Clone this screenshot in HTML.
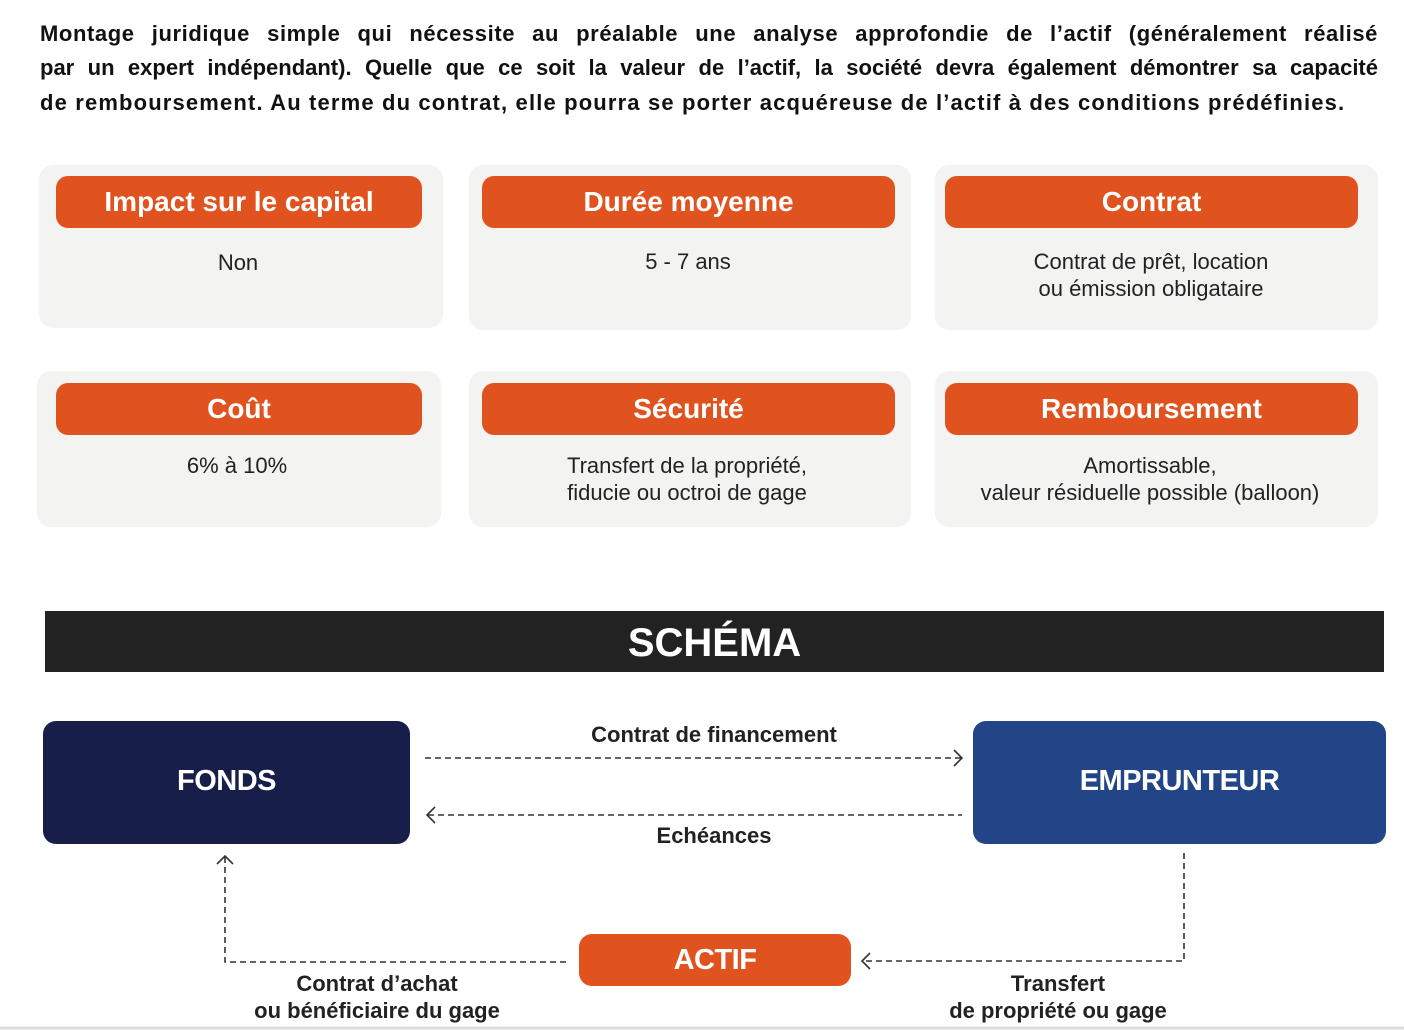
<!DOCTYPE html>
<html><head><meta charset="utf-8"><style>
*{margin:0;padding:0;box-sizing:border-box}
body{width:1404px;height:1030px;background:#fff;position:relative;overflow:hidden;font-family:"Liberation Sans",sans-serif;color:#111}
.il{position:absolute;left:40px;width:1338px;font-size:22px;font-weight:bold;line-height:30px;white-space:nowrap;letter-spacing:1.15px}
.j{text-align:justify;text-align-last:justify;white-space:normal}
.card{position:absolute;background:#f3f3f2;border-radius:14px}
.pill{position:absolute;background:#e0531f;border-radius:12px;color:#fff;font-size:28px;font-weight:bold;text-align:center;line-height:52px;height:52px}
.val{position:absolute;font-size:22px;text-align:center;line-height:27px;color:#222}
.bar{position:absolute;left:45px;top:611px;width:1339px;height:61px;background:#222;color:#fff;font-size:40px;font-weight:bold;text-align:center;line-height:64px}
.box{position:absolute;border-radius:13px;color:#fff;font-weight:bold;font-size:29px;text-align:center;letter-spacing:-0.5px}
.lbl{position:absolute;font-size:22px;font-weight:bold;text-align:center;line-height:27px;color:#222}
</style></head><body>
<div class="il j" style="top:19px;letter-spacing:0.6px">Montage juridique simple qui nécessite au préalable une analyse approfondie de l’actif (généralement réalisé</div>
<div class="il j" style="top:53px;letter-spacing:0">par un expert indépendant). Quelle que ce soit la valeur de l’actif, la société devra également démontrer sa capacité</div>
<div class="il" style="top:88px">de remboursement. Au terme du contrat, elle pourra se porter acquéreuse de l’actif à des conditions prédéfinies.</div>

<div class="card" style="left:39px;top:165px;width:404px;height:163px"></div>
<div class="card" style="left:469px;top:165px;width:442px;height:165px"></div>
<div class="card" style="left:935px;top:165px;width:443px;height:165px"></div>
<div class="card" style="left:37px;top:371px;width:404px;height:156px"></div>
<div class="card" style="left:469px;top:371px;width:442px;height:156px"></div>
<div class="card" style="left:935px;top:371px;width:443px;height:156px"></div>

<div class="pill" style="left:56px;top:176px;width:366px">Impact sur le capital</div>
<div class="pill" style="left:482px;top:176px;width:413px">Durée moyenne</div>
<div class="pill" style="left:945px;top:176px;width:413px">Contrat</div>
<div class="pill" style="left:56px;top:383px;width:366px">Coût</div>
<div class="pill" style="left:482px;top:383px;width:413px">Sécurité</div>
<div class="pill" style="left:945px;top:383px;width:413px">Remboursement</div>

<div class="val" style="left:39px;top:249px;width:398px">Non</div>
<div class="val" style="left:469px;top:248px;width:438px">5 - 7 ans</div>
<div class="val" style="left:935px;top:248px;width:432px">Contrat de prêt, location<br>ou émission obligataire</div>
<div class="val" style="left:37px;top:452px;width:400px">6% à 10%</div>
<div class="val" style="left:469px;top:452px;width:436px">Transfert de la propriété,<br>fiducie ou octroi de gage</div>
<div class="val" style="left:935px;top:452px;width:430px">Amortissable,<br>valeur résiduelle possible (balloon)</div>

<div class="bar">SCHÉMA</div>

<div class="box" style="left:43px;top:721px;width:367px;height:123px;background:#171e4a;line-height:121px">FONDS</div>
<div class="box" style="left:973px;top:721px;width:413px;height:123px;background:#214587;line-height:121px">EMPRUNTEUR</div>
<div class="box" style="left:579px;top:934px;width:272px;height:52px;background:#e0531f;line-height:52px">ACTIF</div>

<svg style="position:absolute;left:0;top:0" width="1404" height="1030">
<g stroke="#333" stroke-width="1.6" fill="none">
<line x1="425" y1="758" x2="961" y2="758" stroke-dasharray="6,4"/>
<polyline points="954,750 962,758 954,766"/>
<line x1="428" y1="815" x2="962" y2="815" stroke-dasharray="6,4"/>
<polyline points="435,807 427,815 435,823"/>
<polyline points="225,857 225,962 569,962" stroke-dasharray="6,4"/>
<polyline points="217,864 225,856 233,864"/>
<polyline points="1184,853 1184,961 863,961" stroke-dasharray="6,4"/>
<polyline points="870,953 862,961 870,969"/>
</g>
<line x1="0" y1="1028" x2="1404" y2="1028" stroke="#ddd" stroke-width="3"/>
</svg>

<div class="lbl" style="left:514px;top:721px;width:400px">Contrat de financement</div>
<div class="lbl" style="left:514px;top:822px;width:400px">Echéances</div>
<div class="lbl" style="left:177px;top:970px;width:400px">Contrat d’achat<br>ou bénéficiaire du gage</div>
<div class="lbl" style="left:858px;top:970px;width:400px">Transfert<br>de propriété ou gage</div>
</body></html>
